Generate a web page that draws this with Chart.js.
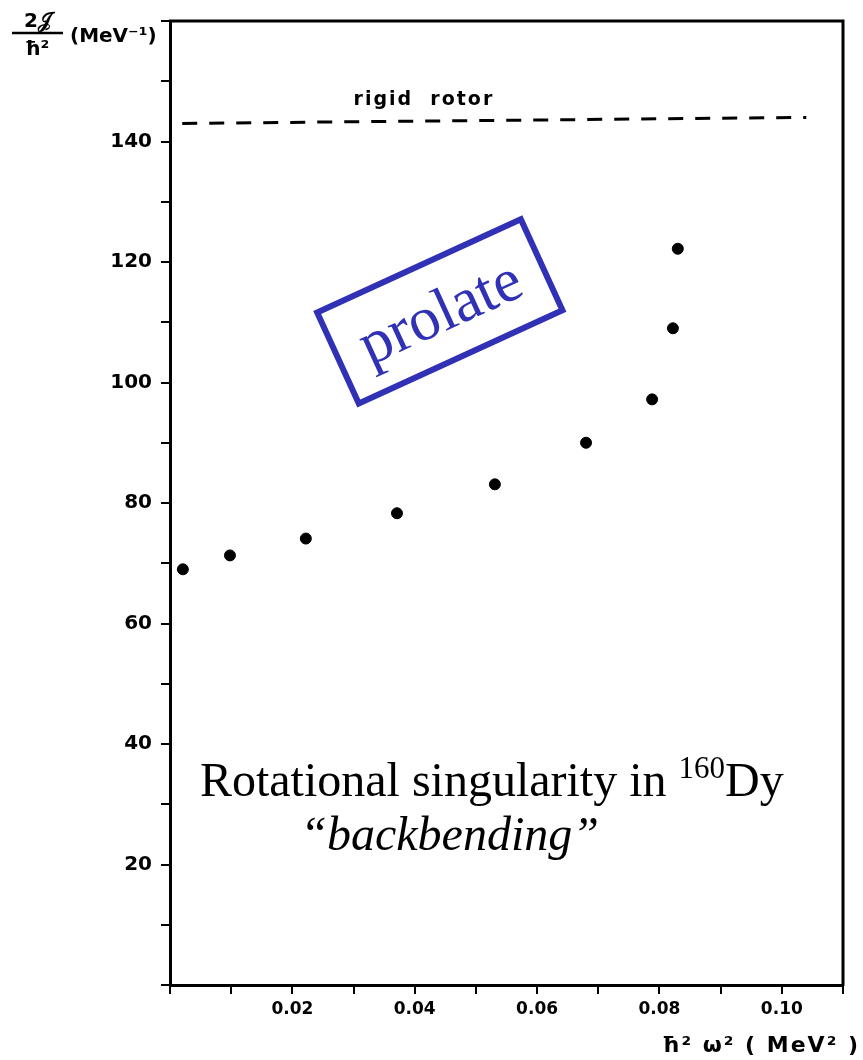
<!DOCTYPE html>
<html>
<head>
<meta charset="utf-8">
<script src="https://cdn.jsdelivr.net/npm/chart.js@4.4.1/dist/chart.umd.min.js"></script>
<style>
  html, body { margin: 0; padding: 0; background: #fff; }
  #wrap { width: 863px; height: 1060px; }
</style>
</head>
<body>
<div id="wrap"><canvas id="chart" width="863" height="1060"></canvas></div>
<script>
// 측정점: ħ²ω² (MeV²) 대 2J/ħ² (MeV⁻¹)
const omegaSq = [0.0021, 0.0098, 0.0222, 0.0371, 0.0531, 0.0680, 0.0788, 0.0822, 0.0830];
const inertia = [69.0, 71.3, 74.1, 78.3, 83.1, 90.0, 97.2, 109.0, 122.2];

// rigid rotor 기준선 (스캔이 살짝 기울어져 있음)
const rigidX = [0.002, 0.104];
const rigidY = [143.0, 144.0];

// 눈금 라벨
const xTickLabels = ['0.02', '0.04', '0.06', '0.08', '0.10'];
const yTickLabels = ['20', '40', '60', '80', '100', '120', '140'];

const ink = '#000';
const stampBlue = '#3131b5';

// 프레임, 축 제목, 주석
const decorPlugin = {
  id: 'decor',
  afterDraw(chart) {
    const { ctx, chartArea: a, scales: { x, y } } = chart;
    ctx.save();

    // 위/오른쪽 테두리
    ctx.strokeStyle = ink;
    ctx.lineWidth = 3;
    ctx.beginPath();
    ctx.moveTo(a.left - 1, a.top);
    ctx.lineTo(a.right, a.top);
    ctx.lineTo(a.right, a.bottom + 1);
    ctx.stroke();

    ctx.fillStyle = ink;

    // y축 제목: 2𝒥/ħ² (MeV⁻¹)
    ctx.font = 'bold 20px "DejaVu Sans"';
    ctx.textAlign = 'center';
    ctx.textBaseline = 'alphabetic';
    ctx.fillText('2\u{1D4A5}', 38, 27);
    ctx.lineWidth = 2.5;
    ctx.beginPath();
    ctx.moveTo(12, 33);
    ctx.lineTo(63, 33);
    ctx.stroke();
    ctx.fillText('ħ²', 37, 55);
    ctx.textAlign = 'left';
    ctx.fillText('(MeV⁻¹)', 70, 42);

    // x축 제목
    ctx.font = 'bold 22px "DejaVu Sans"';
    ctx.letterSpacing = '2px';
    ctx.textAlign = 'right';
    ctx.fillText('ħ² ω² ( MeV² )', 860, 1052);

    // rigid rotor 라벨
    ctx.font = 'bold 19px "DejaVu Sans"';
    ctx.letterSpacing = '2px';
    ctx.textAlign = 'center';
    ctx.fillText('rigid  rotor', x.getPixelForValue(0.0415), y.getPixelForValue(146.0));
    ctx.letterSpacing = '0px';

    // prolate 도장
    const px = x.getPixelForValue(0.0441);
    const py = y.getPixelForValue(111.8);
    ctx.save();
    ctx.translate(px, py);
    ctx.rotate(-24.6 * Math.PI / 180);
    ctx.strokeStyle = stampBlue;
    ctx.lineWidth = 6;
    ctx.strokeRect(-112, -50, 224, 100);
    ctx.fillStyle = stampBlue;
    ctx.font = '62px "Liberation Serif"';
    ctx.textAlign = 'center';
    ctx.textBaseline = 'middle';
    ctx.fillText('prolate', 0, 4);
    ctx.restore();

    // Rotational singularity in ¹⁶⁰Dy
    const mainFont = '48px "Liberation Serif"';
    const supFont = '31px "Liberation Serif"';
    const partA = 'Rotational singularity in ';
    const partSup = '160';
    const partB = 'Dy';
    ctx.font = mainFont;
    const wA = ctx.measureText(partA).width;
    const wB = ctx.measureText(partB).width;
    ctx.font = supFont;
    const wSup = ctx.measureText(partSup).width;
    const cx = x.getPixelForValue(0.0526);
    const base = y.getPixelForValue(31.4);
    const sx = cx - (wA + wSup + wB) / 2;
    ctx.textAlign = 'left';
    ctx.textBaseline = 'alphabetic';
    ctx.font = mainFont;
    ctx.fillText(partA, sx, base);
    ctx.font = supFont;
    ctx.fillText(partSup, sx + wA, base - 18);
    ctx.font = mainFont;
    ctx.fillText(partB, sx + wA + wSup, base);

    // “backbending”
    ctx.font = 'italic 48px "Liberation Serif"';
    ctx.textAlign = 'center';
    ctx.fillText('“backbending”', x.getPixelForValue(0.0457), y.getPixelForValue(22.4));

    ctx.restore();
  }
};

const ctx = document.getElementById('chart').getContext('2d');

new Chart(ctx, {
  type: 'scatter',
  data: {
    datasets: [
      {
        label: 'data',
        data: omegaSq.map((v, i) => ({ x: v, y: inertia[i] })),
        backgroundColor: ink,
        borderColor: ink,
        pointRadius: 5.5,
        pointHoverRadius: 5.5
      },
      {
        label: 'rigid rotor',
        data: rigidX.map((v, i) => ({ x: v, y: rigidY[i] })),
        showLine: true,
        borderColor: ink,
        borderWidth: 3,
        borderDash: [15, 12],
        pointRadius: 0,
        fill: false
      }
    ]
  },
  options: {
    responsive: false,
    animation: false,
    events: [],
    layout: {
      padding: { top: 18, right: 20, left: 0, bottom: 0 }
    },
    plugins: {
      legend: { display: false },
      tooltip: { enabled: false }
    },
    scales: {
      x: {
        type: 'linear',
        min: 0,
        max: 0.11,
        afterFit: (scale) => { scale.height = 75; },
        border: { display: true, color: ink, width: 3 },
        grid: { drawOnChartArea: false, drawTicks: true, tickLength: 9, color: ink, lineWidth: 2 },
        ticks: {
          stepSize: 0.01,
          autoSkip: false,
          maxRotation: 0,
          padding: 5,
          color: ink,
          font: { family: 'DejaVu Sans', size: 17, weight: 'bold' },
          callback: (v) => {
            const s = v.toFixed(2);
            return xTickLabels.includes(s) ? s : '';
          }
        }
      },
      y: {
        type: 'linear',
        min: 0,
        max: 160,
        afterFit: (scale) => { scale.width = 170; },
        border: { display: true, color: ink, width: 3 },
        grid: { drawOnChartArea: false, drawTicks: true, tickLength: 9, color: ink, lineWidth: 2 },
        ticks: {
          stepSize: 10,
          autoSkip: false,
          padding: 9,
          color: ink,
          font: { family: 'DejaVu Sans', size: 20, weight: 'bold' },
          callback: (v) => {
            const s = String(Math.round(v));
            return yTickLabels.includes(s) ? s : '';
          }
        }
      }
    }
  },
  plugins: [decorPlugin]
});
</script>
</body>
</html>
